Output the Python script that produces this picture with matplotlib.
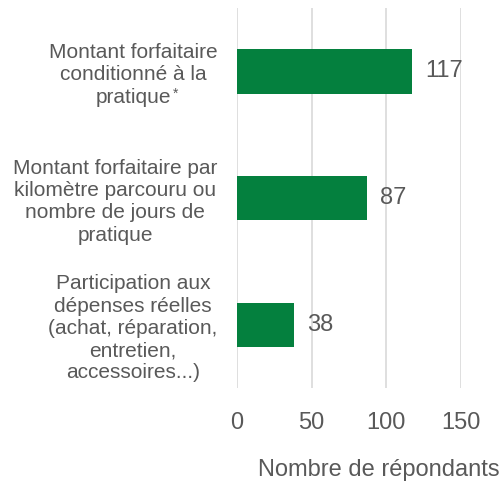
import matplotlib
matplotlib.use('Agg')
import matplotlib.pyplot as plt

plt.rcParams['font.family'] = ['Liberation Sans', 'DejaVu Sans']

categories = [
    "Montant forfaitaire\nconditionné à la\npratique",
    "Montant forfaitaire par\nkilomètre parcouru ou\nnombre de jours de\npratique",
    "Participation aux\ndépenses réelles\n(achat, réparation,\nentretien,\naccessoires...)",
]
values = [117, 87, 38]
x_ticks = [0, 50, 100, 150]
footnote_mark = "*"   # attached to the first category

text_color = '#595959'
bar_color = '#04803e'

fig = plt.figure(figsize=(5.02, 4.84), dpi=100)
ax = fig.add_axes([237 / 502, 1 - 388 / 484, 224 / 502, 380 / 484])

pos = list(range(len(categories)))
ax.barh(pos, values, height=0.35, color=bar_color, zorder=2)

for p, v in zip(pos, values):
    ax.text(v + 9, p, str(v), va='center', ha='left', fontsize=17, color=text_color)

ax.set_ylim(len(categories) - 0.5, -0.5)
ax.set_xlim(0, 150)
ax.set_xticks(x_ticks)
ax.set_xticklabels([str(t) for t in x_ticks], fontsize=17, color=text_color)
ax.set_yticks(pos)
ax.set_yticklabels(categories, fontsize=15, color=text_color,
                   ha='right', multialignment='center', linespacing=1.22)
ax.tick_params(axis='y', length=0, pad=14)
ax.tick_params(axis='x', length=0, pad=17)

ax.grid(axis='x', color='#d9d9d9', linewidth=1.2, zorder=0)
for s in ax.spines.values():
    s.set_visible(False)

ax.set_xlabel("Nombre de répondants", fontsize=17, color=text_color)
ax.xaxis.set_label_coords((379 - 237) / 224, (388 - 470) / 380)
ax.xaxis.label.set_va('center')

# small raised asterisk after the last line of the first label
fig.canvas.draw()
renderer = fig.canvas.get_renderer()
lab = ax.get_yticklabels()[0]
bb = lab.get_window_extent(renderer)
last_line = categories[0].split('\n')[-1]
tmp = fig.text(0, 0, last_line, fontsize=15)
w = tmp.get_window_extent(renderer).width
tmp.remove()
xc = (bb.x0 + bb.x1) / 2
fig.text((xc + w / 2 + 2) / fig.bbox.width, (bb.y0 + 6) / fig.bbox.height,
         footnote_mark, fontsize=10, color=text_color, ha='left', va='bottom')

fig.savefig('out.png', dpi=100)
